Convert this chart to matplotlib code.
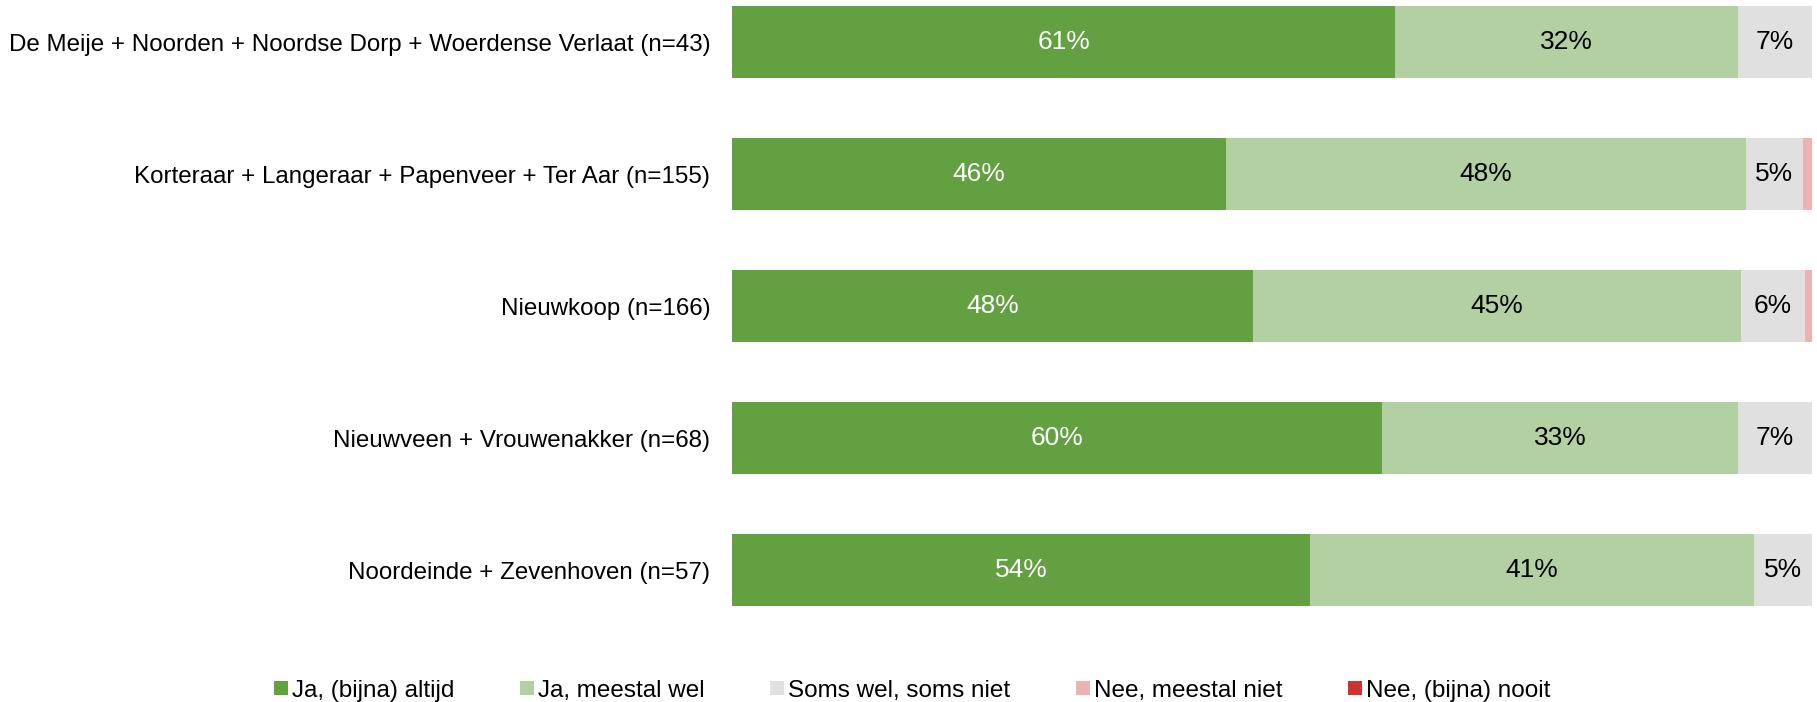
import numpy as np
import matplotlib.pyplot as plt
from matplotlib.patches import Patch

plt.rcParams['font.family'] = ['Liberation Sans', 'DejaVu Sans']

categories = [
    'De Meije + Noorden + Noordse Dorp + Woerdense Verlaat (n=43)',
    'Korteraar + Langeraar + Papenveer + Ter Aar (n=155)',
    'Nieuwkoop (n=166)',
    'Nieuwveen + Vrouwenakker (n=68)',
    'Noordeinde + Zevenhoven (n=57)',
]
series = ['Ja, (bijna) altijd', 'Ja, meestal wel', 'Soms wel, soms niet',
          'Nee, meestal niet', 'Nee, (bijna) nooit']
ja_altijd = [61.4, 45.7, 48.2, 60.2, 53.5]
ja_meestal = [31.7, 48.2, 45.2, 32.9, 41.1]
soms = [6.9, 5.2, 5.9, 6.9, 5.4]
nee_meestal = [0, 0.9, 0.7, 0, 0]
nee_nooit = [0, 0, 0, 0, 0]
colors = ['#63a042', '#b3d0a3', '#dfe0df', '#ecb1b1', '#cc3333']
text_colors = ['white', 'black', 'black', 'black', 'white']

values = [ja_altijd, ja_meestal, soms, nee_meestal, nee_nooit]

fig = plt.figure(figsize=(18.17, 7.02), dpi=100)
# axes reach a bit above the figure so the first bar sits near the top edge
ax = fig.add_axes([0.4031, 0.094, 0.5943, 0.940])

y = np.arange(len(categories))
left = np.zeros(len(categories))
for vals, col, tc in zip(values, colors, text_colors):
    vals = np.array(vals)
    ax.barh(y, vals, left=left, color=col, height=0.55)
    for yi, l, v in zip(y, left, vals):
        if v >= 2:
            ax.text(l + v / 2, yi, f'{v:.0f}%', ha='center', va='center',
                    color=tc, fontsize=19)
    left += vals

ax.set_xlim(0, 100)
ax.set_ylim(len(categories) - 0.5, -0.5)
ax.set_yticks(y)
ax.set_yticklabels(categories, fontsize=17.35)
ax.tick_params(axis='y', length=0, pad=16)
ax.set_xticks([])
for s in ax.spines.values():
    s.set_visible(False)

handles = [Patch(facecolor=c, label=s) for c, s in zip(colors, series)]
fig.legend(handles=handles, loc='center left', bbox_to_anchor=(0.1508, 0.016),
           ncol=5, frameon=False, fontsize=17.5, handlelength=0.58, handleheight=0.53,
           handletextpad=0.16, columnspacing=2.7, borderpad=0, borderaxespad=0)

fig.savefig('out.png', dpi=100)
